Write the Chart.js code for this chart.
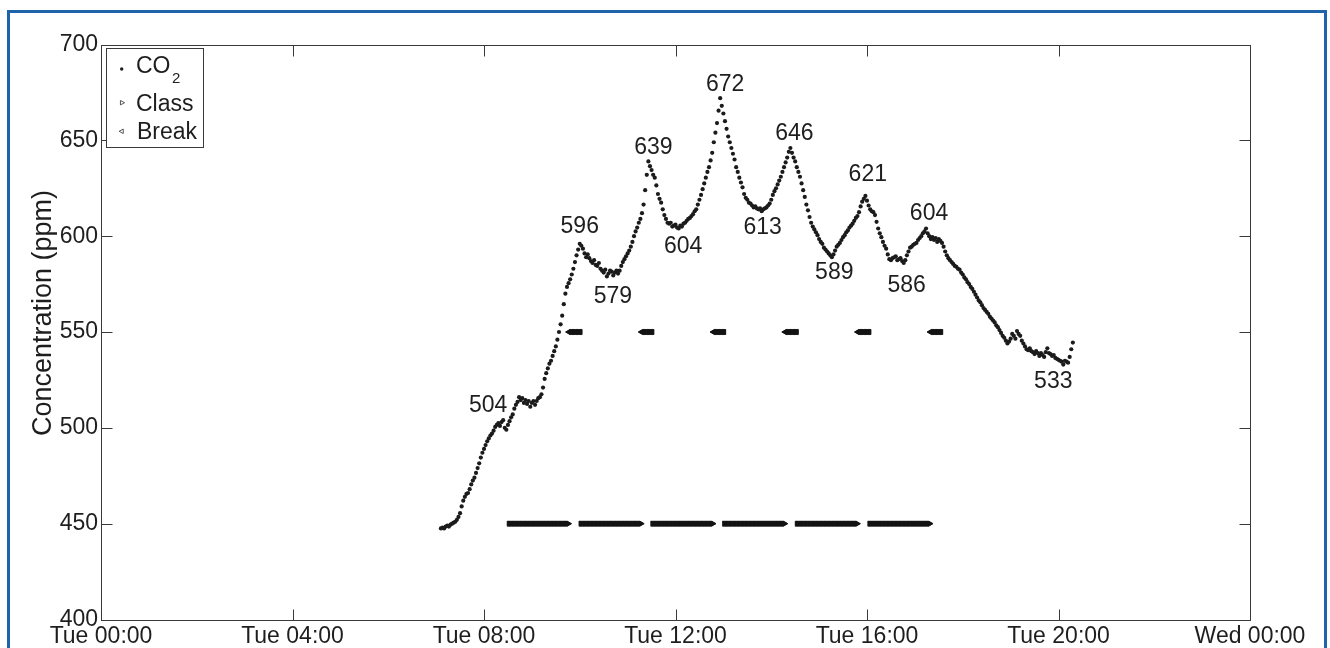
<!DOCTYPE html>
<html>
<head>
<meta charset="utf-8">
<title>CO2 concentration, Tuesday</title>
<script src="https://cdn.jsdelivr.net/npm/chart.js@4.4.1/dist/chart.umd.min.js"></script>
<style>
  html, body { margin: 0; padding: 0; background: #ffffff; }
  #wrap { position: relative; width: 1330px; height: 648px; overflow: hidden; background: #ffffff; }
  #wrap canvas { position: absolute; left: 0; top: 0; }
  #frame { position: absolute; left: 7px; top: 10px; width: 1320px; height: 720px;
           border: 3px solid #1f63aa; box-sizing: border-box; pointer-events: none; }
</style>
</head>
<body>
<div id="wrap">
  <canvas id="c" width="1330" height="648"></canvas>
  <div id="frame"></div>
</div>
<script>
// ---- CO2 readings (ppm), one every 2 minutes starting Tue 07:06 ----
const co2StartMin = 7 * 60 + 6;
const co2StepMin = 2;
const co2 = [
  // 07:06 - 07:58
  447.5, 448, 447.5, 448.5, 449, 448.5, 449.5, 450, 450.5, 451, 452, 453.5, 455.5, 459, 462, 464, 465.5, 466,
  468, 470.5, 472.5, 474, 476.5, 479, 481.5, 484.5, 487,
  // 08:00 - 08:58
  489, 491, 493, 494.5, 496, 497, 498.5, 500.5, 501.5, 502.5, 501, 503, 504, 500, 499,
  501.5, 503.5, 505.5, 507, 510, 512, 513.5, 516, 514.5, 515.5, 513, 514.5, 512.5, 514, 511,
  // 09:00 - 09:58
  513, 514, 512, 514, 515.5, 516, 517.5, 521, 525.5, 528.5, 531, 533.5, 535, 537.5, 540,
  542.5, 546, 550, 554, 558.5, 564.5, 570, 573.5, 575.5, 577.5, 580, 583, 586.5, 590, 593,
  // 10:00 - 10:58
  596, 595, 593.5, 591, 589, 590.5, 588.5, 587, 586, 587.5, 585, 584.5, 586, 583, 582,
  581, 582.5, 579, 580.5, 582, 581.5, 579.5, 581, 582, 580.5, 582, 584.5, 586.5, 588, 589.5,
  // 11:00 - 11:58
  591, 592.5, 594.5, 597, 600, 602.5, 604.5, 607, 609, 612, 616.5, 624, 632, 639, 636.5,
  634.5, 632, 630.5, 626.5, 622, 619.5, 617.5, 614, 611, 609, 607, 606.5, 607, 605, 605.5,
  // 12:00 - 12:58
  606, 604.5, 604, 605.5, 605, 606.5, 607, 608, 609, 609.5, 610.5, 611.5, 613, 614, 616.5,
  619, 621.5, 624.5, 627.5, 630.5, 633.5, 636, 639.5, 643.5, 649, 654, 659, 665.5, 672, 668,
  // 13:00 - 13:58
  664, 660, 656, 652, 649, 646, 643, 640, 636, 633.5, 630.5, 628, 625.5, 622, 620,
  619, 617.5, 617, 616, 615, 615.5, 614.5, 614, 614.5, 613, 614, 614.5, 615, 616, 617,
  // 14:00 - 14:58
  619, 621.5, 623.5, 625, 627, 629, 631, 633.5, 636, 638.5, 641, 644, 646, 643.5, 641,
  639, 636, 633.5, 631, 627.5, 624, 620.5, 616.5, 613.5, 610, 607, 605, 603.5, 602, 600.5,
  // 15:00 - 15:58
  598.5, 597, 596, 594, 593, 592, 591, 590, 589, 590.5, 592.5, 594.5, 595.5, 596.5, 598,
  599.5, 600.5, 602, 603, 604.5, 605.5, 606.5, 608, 609.5, 610.5, 612.5, 615.5, 618, 619.5, 621,
  // 16:00 - 16:58
  618.5, 616, 614, 613, 612.5, 611, 607.5, 604, 601.5, 599.5, 597, 595, 593.5, 590.5, 588,
  587.5, 588.5, 589, 589.5, 587.5, 588, 588.5, 587, 586, 587.5, 590, 592, 594, 594.5, 595.5,
  // 17:00 - 17:58
  596, 596.5, 598, 599, 600, 601.5, 602.5, 604, 601.5, 600, 598.5, 599.5, 598, 599, 597,
  598.5, 597.5, 596.5, 594.5, 592, 590, 588.5, 587.5, 586.5, 585.5, 584.5, 584, 583, 582.5, 581,
  // 18:00 - 18:58
  580, 578.5, 577.5, 576, 575, 573.5, 572.5, 571, 569.5, 568, 566.5, 565.5, 564, 562.5, 561.5,
  560.5, 559.5, 558, 557, 556, 555, 553.5, 552.5, 551, 549.5, 548, 547, 545.5, 544, 545,
  // 19:00 - 19:58
  546.5, 549, 548, 546.5, 550.5, 549, 548, 545.5, 544, 542.5, 541, 540.5, 541.5, 540, 539.5,
  538.5, 540, 539, 537.5, 539, 538, 537, 539.5, 541.5, 539, 538.5, 537.5, 538, 536.5, 536,
  // 20:00 - 20:18
  535.5, 535, 534.5, 533, 535, 534.5, 534, 537, 541, 544.5
];

// ---- timetable: lessons and the breaks between them ----
const classPeriods = [['08:31', '09:46'], ['10:01', '11:17'], ['11:31', '12:47'],
                      ['13:01', '14:17'], ['14:32', '15:48'], ['16:03', '17:19']];
const breakPeriods = [['09:46', '10:01'], ['11:17', '11:31'], ['12:47', '13:01'],
                      ['14:17', '14:32'], ['15:48', '16:03'], ['17:19', '17:33']];
const classLevel = 450;
const breakLevel = 550;

// ---- annotated peaks and troughs (times of the labelled readings) ----
const peakTimes = ['08:24', '10:00', '10:34', '11:26', '12:04', '12:56', '13:48',
                   '14:24', '15:16', '15:58', '16:46', '17:14', '20:06'];

// ---- axes ----
const xTickHours = [0, 4, 8, 12, 16, 20, 24];
const xTickLabels = ['Tue 00:00', 'Tue 04:00', 'Tue 08:00', 'Tue 12:00', 'Tue 16:00', 'Tue 20:00', 'Wed 00:00'];
const yTickValues = [400, 450, 500, 550, 600, 650, 700];
const yTitle = 'Concentration (ppm)';

// ---- styling ----
const FONT = "'Liberation Sans', Arial, Helvetica, sans-serif";
const INK = '#1e1e1e';
const AXIS = '#3a3a3a';
const TICK_LEN = 11;
// label placement relative to its reading, in pixels [dx, dy]
const peakLabelOffsets = [[-15, -15], [0, -17], [6, 20.5], [5, -14], [4.5, 18.5], [5, -14], [1, 16],
                          [4, -14], [2.4, 15], [2.4, -21], [3, 23], [3, -14.6], [-10, 17.5]];

const toMin = s => { const [h, m] = s.split(':').map(Number); return h * 60 + m; };
const co2Points = co2.map((v, i) => ({ x: (co2StartMin + i * co2StepMin) / 60, y: v }));
const spanPoints = (periods, level) => periods.flatMap(([a, b]) => {
  const pts = [];
  for (let m = toMin(a); m <= toMin(b); m++) pts.push({ x: m / 60, y: level });
  return pts;
});

function triangle(ctx, x, y, r, dir) {
  // dir = 1 points right, -1 points left
  ctx.beginPath();
  ctx.moveTo(x + dir * r, y);
  ctx.lineTo(x - dir * r * 0.6, y - r * 0.85);
  ctx.lineTo(x - dir * r * 0.6, y + r * 0.85);
  ctx.closePath();
}

// Box around the plot with inward tick marks on all four sides
const axesFrame = {
  id: 'axesFrame',
  afterDatasetsDraw(chart) {
    const { ctx, chartArea: a, scales: { x, y } } = chart;
    const L = Math.round(a.left) + 0.5, R = Math.round(a.right) + 0.5;
    const T = Math.round(a.top) + 0.5, B = Math.round(a.bottom) + 0.5;
    ctx.save();
    ctx.strokeStyle = AXIS;
    ctx.lineWidth = 1;
    ctx.strokeRect(L, T, R - L, B - T);
    ctx.beginPath();
    xTickHours.forEach(h => {
      const px = Math.round(x.getPixelForValue(h)) + 0.5;
      ctx.moveTo(px, B); ctx.lineTo(px, B - TICK_LEN);
      ctx.moveTo(px, T); ctx.lineTo(px, T + TICK_LEN);
    });
    yTickValues.forEach(v => {
      const py = Math.round(y.getPixelForValue(v)) + 0.5;
      ctx.moveTo(L, py); ctx.lineTo(L + TICK_LEN, py);
      ctx.moveTo(R, py); ctx.lineTo(R - TICK_LEN, py);
    });
    ctx.stroke();
    ctx.restore();
  }
};

// Value labels next to the labelled readings
const valueLabels = {
  id: 'valueLabels',
  afterDatasetsDraw(chart) {
    const { ctx, scales: { x, y } } = chart;
    ctx.save();
    ctx.font = `23px ${FONT}`;
    ctx.fillStyle = INK;
    ctx.textAlign = 'center';
    ctx.textBaseline = 'middle';
    peakTimes.forEach((t, i) => {
      const idx = Math.round((toMin(t) - co2StartMin) / co2StepMin);
      const v = co2[idx];
      const px = x.getPixelForValue((co2StartMin + idx * co2StepMin) / 60);
      const py = y.getPixelForValue(v);
      const [dx, dy] = peakLabelOffsets[i];
      ctx.fillText(String(Math.round(v)), px + dx, py + dy);
    });
    ctx.restore();
  }
};

// Legend box in the upper left corner plus the rotated y title
const legendBox = {
  id: 'legendBox',
  afterDraw(chart) {
    const { ctx } = chart;
    ctx.save();
    ctx.fillStyle = '#ffffff';
    ctx.fillRect(106.5, 48.5, 97, 99);
    ctx.strokeStyle = AXIS;
    ctx.lineWidth = 1;
    ctx.strokeRect(106.5, 48.5, 97, 99);

    ctx.fillStyle = INK;
    ctx.beginPath();
    ctx.arc(121.7, 69, 1.7, 0, Math.PI * 2);
    ctx.fill();

    ctx.strokeStyle = '#444';
    ctx.lineWidth = 0.9;
    triangle(ctx, 122, 102.7, 2.6, 1); ctx.stroke();
    triangle(ctx, 121.7, 131.3, 2.6, -1); ctx.stroke();

    ctx.fillStyle = INK;
    ctx.textBaseline = 'alphabetic';
    ctx.textAlign = 'left';
    ctx.font = `23px ${FONT}`;
    ctx.fillText('CO', 136, 72.7);
    const w = ctx.measureText('CO').width;
    ctx.font = `15px ${FONT}`;
    ctx.fillText('2', 136 + w + 1.5, 83.3);
    ctx.font = `23px ${FONT}`;
    ctx.fillText('Class', 136, 110.7);
    ctx.fillText('Break', 137, 139.3);

    ctx.translate(51, 313);
    ctx.rotate(-Math.PI / 2);
    ctx.textAlign = 'center';
    ctx.font = `27px ${FONT}`;
    ctx.fillText(yTitle, 0, 0);
    ctx.restore();
  }
};

const tickFont = { family: FONT, size: 23 };

new Chart(document.getElementById('c'), {
  type: 'scatter',
  data: {
    datasets: [
      { label: 'CO\u2082', data: co2Points, showLine: false,
        pointRadius: 2.1, pointHoverRadius: 2.1, pointBorderWidth: 0,
        pointBackgroundColor: '#1b1b1b' },
      { label: 'Class', data: spanPoints(classPeriods, classLevel), showLine: false,
        pointStyle: 'triangle', pointRotation: 90, pointRadius: 3, pointHoverRadius: 3,
        pointBackgroundColor: '#141414', pointBorderColor: '#141414', pointBorderWidth: 1 },
      { label: 'Break', data: spanPoints(breakPeriods, breakLevel), showLine: false,
        pointStyle: 'triangle', pointRotation: -90, pointRadius: 3, pointHoverRadius: 3,
        pointBackgroundColor: '#141414', pointBorderColor: '#141414', pointBorderWidth: 1 }
    ]
  },
  options: {
    responsive: false,
    animation: false,
    devicePixelRatio: 1,
    events: [],
    layout: { padding: { top: 44.5, right: 80, left: 0, bottom: 0 } },
    scales: {
      x: {
        type: 'linear', min: 0, max: 24,
        afterBuildTicks: s => { s.ticks = xTickHours.map(v => ({ value: v })); },
        afterFit: s => { s.height = 28.5; },
        ticks: { callback: (v, i) => xTickLabels[i], font: tickFont, color: INK,
                 padding: 3, maxRotation: 0, minRotation: 0, autoSkip: false },
        grid: { display: false, drawTicks: false },
        border: { display: false }
      },
      y: {
        min: 400, max: 700,
        afterBuildTicks: s => { s.ticks = yTickValues.map(v => ({ value: v })); },
        afterFit: s => { s.width = 101; },
        ticks: { callback: v => String(v), font: tickFont, color: INK, padding: 3 },
        grid: { display: false, drawTicks: false },
        border: { display: false }
      }
    },
    plugins: { legend: { display: false }, tooltip: { enabled: false } }
  },
  plugins: [axesFrame, valueLabels, legendBox]
});
</script>
</body>
</html>
